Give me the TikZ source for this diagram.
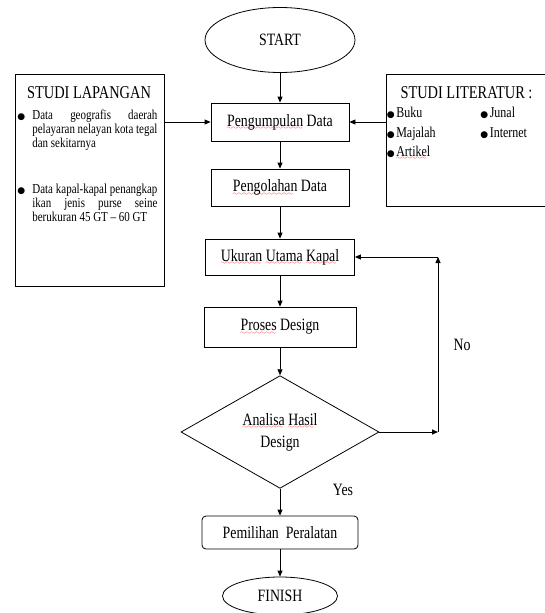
\documentclass[tikz,border=0pt]{standalone}
\usepackage{fontspec}
\setmainfont{Liberation Serif}[FakeStretch=0.8]
\newfontfamily\bulletfont{DejaVu Sans}
\usetikzlibrary{arrows.meta,positioning,shapes.geometric}
\font\wavefont=lasy6
\newcommand\spl[1]{\setbox0\hbox{#1}\leavevmode\rlap{\color{red}\lower3.5pt\hbox to\wd0{\leaders\hbox{\wavefont\char58}\hfil}}\box0\relax}
\newcommand\blt{{\bulletfont\fontsize{9}{9}\selectfont ●}\hspace{1.5pt}}
\tikzset{
  proc/.style={draw,line width=0.8pt,inner sep=0pt,font=\fontsize{17.3}{20}\selectfont},
  term/.style={ellipse,draw,line width=0.8pt,inner sep=0pt,font=\fontsize{17.3}{20}\selectfont},
  decision/.style={diamond,draw,line width=0.8pt,inner sep=0pt,align=center,font=\fontsize{17.3}{22}\selectfont},
  sidebox/.style={draw,line width=0.8pt,inner sep=0pt},
  sidetitle/.style={inner sep=0pt,font=\fontsize{18}{20}\selectfont},
  item/.style={inner sep=0pt,anchor=base west,font=\fontsize{15}{17}\selectfont},
  para/.style={inner sep=0pt,anchor=north west,text width=125pt,align=justify,font=\fontsize{13.7}{14}\selectfont},
  lbl/.style={inner sep=0pt,font=\fontsize{17.3}{20}\selectfont},
  >={Triangle[length=6pt,width=5pt]}
}

\begin{document}
\begin{tikzpicture}[x=1pt,y=-1pt,line width=0.8pt]
  \useasboundingbox (0,0) rectangle (545,613);
  % main column
  \node[term,minimum width=150,minimum height=65] (start) at (280,40) {START};
  \node[proc,minimum width=138,minimum height=38] (kumpul) at (280,122) {\spl{Pengumpulan} Data};
  \node[proc,minimum width=138,minimum height=37] (olah) at (280,187.5) {\spl{Pengolahan} Data};
  \node[proc,minimum width=149,minimum height=36] (ukuran) at (280,257) {\spl{Ukuran} \spl{Utama} \spl{Kapal}};
  \node[proc,minimum width=152,minimum height=40] (proses) at (280,327) {\spl{Proses} Design};
  \node[decision,minimum width=198,minimum height=111] (analisa) at (280,432) {\spl{Analisa} \spl{Hasil}\\Design};
  \node[proc,rounded corners=4pt,minimum width=156,minimum height=33] (pilih) at (280,532.5) {Pemilihan\ \ Peralatan};
  \node[term,minimum width=115,minimum height=38] (finish) at (280,596) {FINISH};

  % studi lapangan
  \node[sidebox,minimum width=149,minimum height=212] (lapangan) at (89.5,180) {};
  \node[sidetitle] (laptitle) at (89,92.5) {STUDI LAPANGAN};
  \node[item] (lapb1) at (17,119) {\blt};
  \node[para] (lap1) at (32,109.5) {Data geografis daerah\linebreak pelayaran nelayan kota tegal\linebreak dan sekitarnya};
  \node[item] (lapb2) at (17,193) {\blt};
  \node[para] (lap2) at (32,183.5) {Data kapal-kapal penangkap\linebreak ikan jenis purse seine\linebreak berukuran 45 GT -- 60 GT};

  % studi literatur
  \node[sidebox,minimum width=165,minimum height=132] (literatur) at (468.5,140) {};
  \node[sidetitle] (littitle) at (466.5,92.5) {STUDI LITERATUR :};
  \node[item] (buku) at (386.5,117) {\blt Buku};
  \node[item] (majalah) at (386.5,137) {\blt Majalah};
  \node[item] (artikel) at (386.5,156) {\blt \spl{Artikel}};
  \node[item] (junal) at (480,117) {\blt Junal};
  \node[item] (internet) at (480,137) {\blt Internet};

  % connectors
  \draw[->] (start) -- (kumpul);
  \draw[->] (kumpul) -- (olah);
  \draw[->] (olah) -- (ukuran);
  \draw[->] (ukuran) -- (proses);
  \draw[->] (proses) -- (analisa);
  \draw[->] (analisa) -- (pilih);
  \draw[->] (pilih) -- (finish);
  \draw[->] (lapangan.east |- kumpul.west) -- (kumpul.west);
  \draw[->] (literatur.west |- kumpul.east) -- (kumpul.east);
  \coordinate (turn1) at (438,432);
  \coordinate (turn2) at (turn1 |- ukuran.east);
  \draw[->] (analisa.east) -- (turn1);
  \draw[->] (turn1) -- (turn2);
  \draw[->] (turn2) -- (ukuran.east);
  \node[lbl] (no) at (462,345) {No};
  \node[lbl] (yes) at (343,490) {Yes};
\end{tikzpicture}
\end{document}
